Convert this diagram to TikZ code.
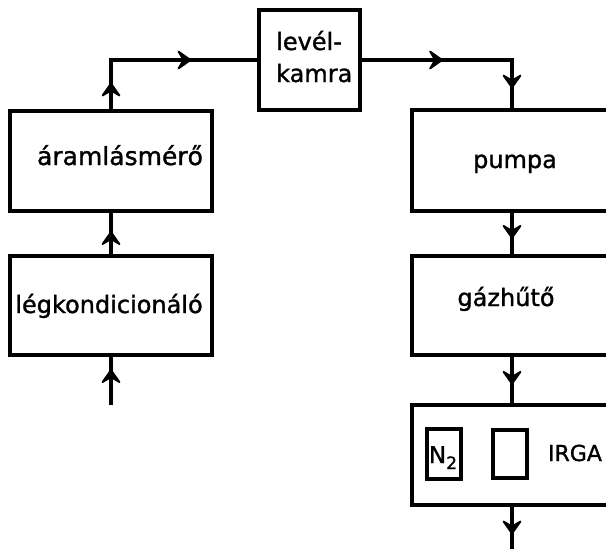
\documentclass[tikz,border=0pt]{standalone}
\usepackage{fontspec}
\setmainfont[FakeBold=1.2]{DejaVu Sans}
\usetikzlibrary{arrows.meta,decorations.markings}
\newcommand\flowhead{\filldraw[line width=1.8pt,line join=round] (1pt,0pt) -- (-11pt,8.5pt) -- (-6pt,0pt) -- (-11pt,-8.5pt) -- cycle;}
\begin{document}
\begin{tikzpicture}[x=1pt,y=-1pt,
  box/.style={draw,line width=3.2pt,inner sep=0pt},
  flow/.style={line width=3.2pt},
  mkone/.style={postaction={decorate},decoration={markings,mark=at position #1 with {\flowhead}}},
  mktwo/.style 2 args={postaction={decorate},decoration={markings,mark=at position #1 with {\flowhead},mark=at position #2 with {\flowhead}}},
  lbl/.style={inner sep=0pt,anchor=base,font=\fontsize{24}{32}\selectfont}
]
\useasboundingbox (0,0) rectangle (606,549);
\fill[white] (0,0) rectangle (606,549);
\clip (0,0) rectangle (606,549);

% boxes
\node[box,minimum width=101pt,minimum height=100pt] (kamra) at (309.5,60) {};
\node[lbl,anchor=base west] (kamrat1) at (276,50) {levél-};
\node[lbl,anchor=base west] (kamrat2) at (276,82) {kamra};
\node[box,minimum width=202pt,minimum height=100pt] (aram) at (111,161) {};
\node[lbl,font=\fontsize{25}{32}\selectfont] (aramt) at (120,165) {áramlásmérő};
\node[box,minimum width=202pt,minimum height=99pt] (legk) at (111,305.5) {};
\node[lbl] (legkt) at (109,313) {légkondicionáló};

\node[box,minimum width=200pt,minimum height=101pt] (pumpa) at (512,160.5) {};
\node[lbl] (pumpat) at (515,168) {pumpa};
\node[box,minimum width=200pt,minimum height=99pt] (gazh) at (512,305.5) {};
\node[lbl] (gazht) at (506,306) {gázhűtő};
\node[box,minimum width=200pt,minimum height=100pt] (irga) at (512,455) {};
\node[box,minimum width=34pt,minimum height=50pt] (n2) at (444,454) {};
\node[lbl,font=\fontsize{23}{26}\selectfont] (n2t) at (443,463) {N\raisebox{-6pt}{\fontsize{17}{17}\selectfont 2}};
\node[box,minimum width=34pt,minimum height=48pt] (empty) at (510,454) {};
\node[lbl,font=\fontsize{22}{26}\selectfont] (irgat) at (575,461) {IRGA};

\coordinate (in) at (111,405);
\coordinate (out) at (512,552);

% connectors
\draw[flow,mktwo={0.127}{0.653}] (aram.north) |- (kamra.west);
\draw[flow,mktwo={0.4}{0.89}] (kamra.east) -| (pumpa.north);
\draw[flow,mkone=0.51] (legk.north) -- (aram.south);
\draw[flow,mkone=0.7] (in) -- (legk.south);
\draw[flow,mkone=0.58] (pumpa.south) -- (gazh.north);
\draw[flow,mkone=0.56] (gazh.south) -- (irga.north);
\draw[flow,mkone=0.57] (irga.south) -- (out);
\end{tikzpicture}
\end{document}
